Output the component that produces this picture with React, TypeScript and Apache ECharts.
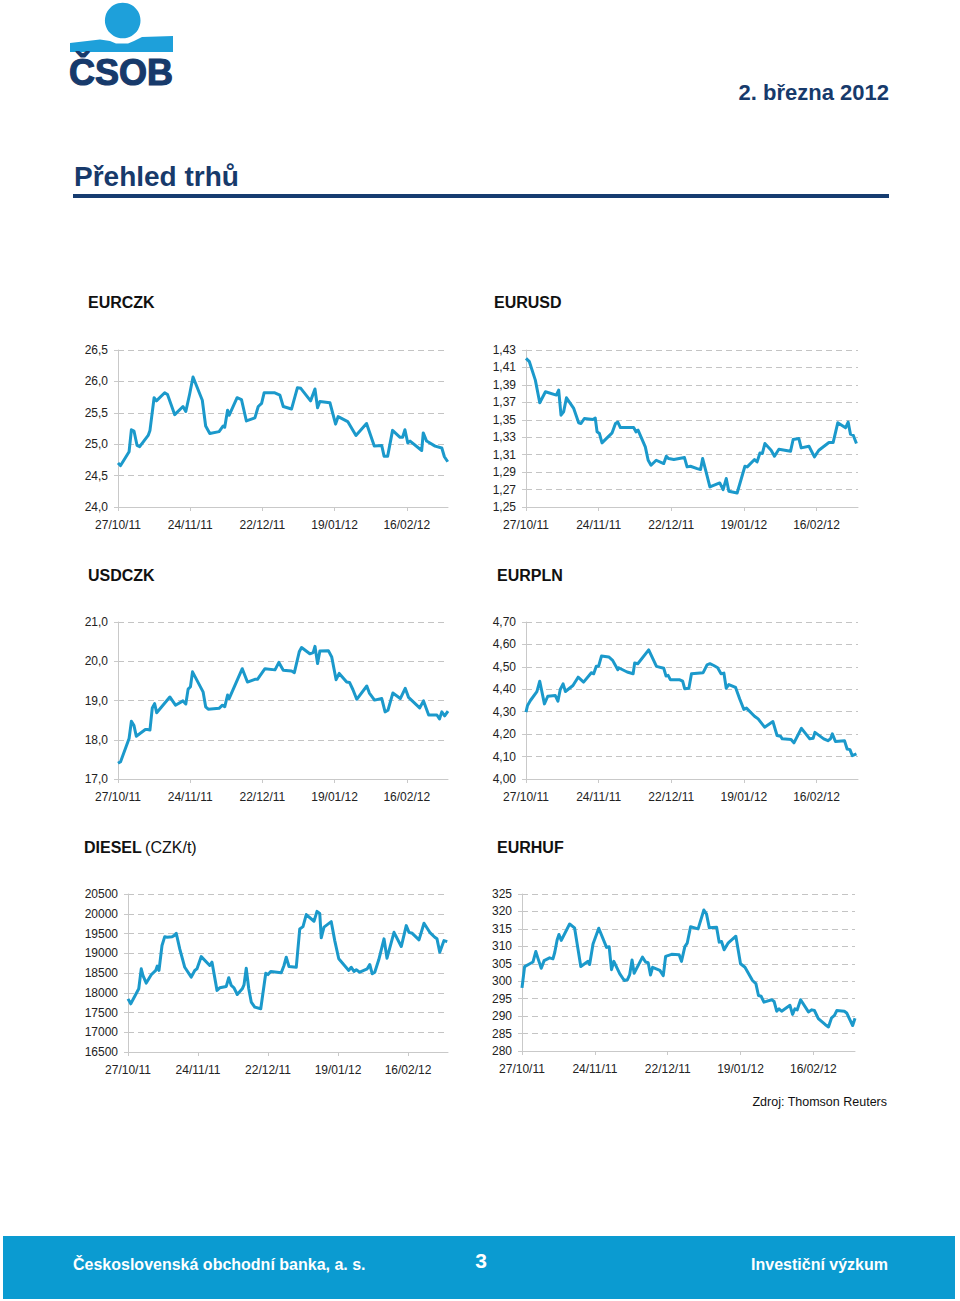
import React, { useEffect, useRef } from "react";
import * as echarts from "echarts";

// ---- Data (x = days since 27/10/2011, y = value) ----
const xTickDays = [0, 28, 56, 84, 112];
const xTickLabels = ["27/10/11", "24/11/11", "22/12/11", "19/01/12", "16/02/12"];

const eurczk: [number, number][] = [
  [0, 24.7], [1, 24.66], [4.3, 24.88], [5.2, 25.23], [6.2, 25.21], [7.4, 24.98], [8.4, 24.96], [11.7, 25.14],
  [12.4, 25.22], [14, 25.74], [14.9, 25.69], [18.1, 25.82], [19.2, 25.79], [22, 25.47], [25.2, 25.6], [26.3, 25.52],
  [27.8, 25.8], [29.1, 26.07], [32.7, 25.7], [34, 25.29], [35.6, 25.17], [39.2, 25.2], [40.8, 25.29], [41.4, 25.27],
  [42.5, 25.54], [43.1, 25.46], [46.2, 25.74], [47.9, 25.71], [49.8, 25.37], [53.1, 25.42], [54.4, 25.6], [55.7, 25.65],
  [56.7, 25.82], [60.6, 25.82], [62.8, 25.78], [64.1, 25.6], [67.3, 25.56], [69.6, 25.9], [70.9, 25.89], [74.7, 25.69],
  [76.4, 25.88], [77.4, 25.58], [78.3, 25.68], [82.2, 25.66], [84.4, 25.32], [85.4, 25.44], [89.1, 25.36], [92.3, 25.14],
  [96.4, 25.33], [99.4, 24.97], [102.3, 24.98], [103.2, 24.81], [104.6, 24.81], [106.5, 25.22], [109.4, 25.11],
  [110.4, 25.11], [111.3, 25.23], [112.4, 25.02], [113.3, 25.05], [117.8, 24.9], [118.4, 25.18], [119.7, 25.05],
  [123, 24.97], [125.6, 24.94], [126.6, 24.8], [127.9, 24.72],
];

const eurusd: [number, number][] = [
  [0, 1.4204], [1.3, 1.4166], [3.6, 1.3955], [5.3, 1.3695], [7.5, 1.3821], [11.7, 1.3783], [12.6, 1.384], [13.5, 1.3553],
  [14.5, 1.3591], [15.6, 1.3752], [18.4, 1.363], [20.3, 1.3465], [21.2, 1.3457], [22.5, 1.3515], [25.8, 1.3503],
  [26.7, 1.3519], [27.4, 1.3362], [28.3, 1.3343], [29.3, 1.3235], [33.2, 1.335], [34.5, 1.3457], [35.4, 1.3473],
  [36.4, 1.3411], [41.5, 1.3411], [42.4, 1.3362], [43.2, 1.3381], [46, 1.3189], [47.1, 1.3036], [48.2, 1.2979],
  [50.2, 1.3036], [53.1, 1.2998], [54.1, 1.3082], [55, 1.3055], [57, 1.3044], [61.1, 1.3067], [62.1, 1.296],
  [63.4, 1.2967], [66, 1.294], [67.3, 1.2929], [68.1, 1.3055], [69.6, 1.2883], [70.9, 1.273], [74.7, 1.2776],
  [76, 1.2699], [77.2, 1.2826], [78.2, 1.268], [81.4, 1.2661], [84.4, 1.2967], [85.3, 1.296], [88.1, 1.3044],
  [89.1, 1.3017], [90.2, 1.312], [91.1, 1.3113], [92.1, 1.3228], [94.5, 1.3151], [95.8, 1.3082], [97.5, 1.3163],
  [102, 1.314], [103, 1.3274], [105.2, 1.3285], [106.1, 1.3178], [109.1, 1.3197], [111.2, 1.3074], [112.9, 1.3151],
  [116.8, 1.3239], [118.4, 1.3239], [120.2, 1.3465], [123.2, 1.3408], [124.2, 1.3473], [125.1, 1.3335],
  [126.2, 1.332], [127.4, 1.3228],
];

const usdczk: [number, number][] = [
  [0, 17.4], [1, 17.44], [4.3, 18.03], [5.2, 18.47], [6.2, 18.36], [7.1, 18.09], [10.6, 18.26], [11.4, 18.26],
  [12.4, 18.25], [13.3, 18.81], [14.2, 18.92], [15, 18.69], [20.1, 19.09], [22.3, 18.88], [25.2, 18.99], [26.3, 18.91],
  [27.2, 19.29], [28.1, 19.35], [28.9, 19.73], [33, 19.22], [34, 18.84], [35, 18.78], [39.2, 18.8], [40.5, 18.88],
  [41.4, 18.84], [42.5, 19.14], [43.1, 19.05], [48.2, 19.81], [50.2, 19.47], [53.1, 19.54], [54.1, 19.54], [57, 19.81],
  [60.9, 19.78], [62.4, 19.97], [64.1, 19.77], [67.3, 19.75], [68.4, 19.71], [70.3, 20.24], [71.2, 20.35],
  [74.4, 20.19], [75.7, 20.22], [76.4, 20.38], [77.4, 19.94], [78.3, 20.26], [81.6, 20.27], [82.9, 20.11],
  [84.6, 19.53], [85.8, 19.69], [88.7, 19.47], [89.8, 19.46], [91.1, 19.28], [92.6, 19.03], [96.5, 19.37],
  [97.5, 19.19], [99.5, 19.01], [102.3, 19.05], [103.6, 18.71], [104.7, 18.75], [106.6, 19.19], [109.5, 19.05],
  [111.4, 19.31], [112.7, 19.08], [117, 18.81], [118.5, 18.99], [120.5, 18.63], [123.7, 18.63], [124.7, 18.53],
  [125.6, 18.71], [126.7, 18.61], [128, 18.73],
];

const eurpln: [number, number][] = [
  [0, 4.298], [0.6, 4.328], [1.7, 4.35], [4.2, 4.39], [5.3, 4.436], [7.1, 4.335], [8.4, 4.369], [11.3, 4.372],
  [12.3, 4.347], [13.2, 4.399], [14.3, 4.424], [15.2, 4.39], [18.1, 4.417], [20.1, 4.454], [22.2, 4.432],
  [25.2, 4.474], [26.1, 4.469], [27.1, 4.503], [28, 4.503], [29.1, 4.548], [31.9, 4.544], [33.4, 4.529],
  [35.4, 4.487], [35.7, 4.496], [39, 4.477], [41.3, 4.469], [41.9, 4.517], [43.1, 4.514], [47.3, 4.576],
  [50.3, 4.502], [53.1, 4.494], [54, 4.459], [54.8, 4.462], [55.7, 4.442], [59.3, 4.442], [60.4, 4.436],
  [61.2, 4.402], [62.8, 4.405], [63.8, 4.469], [68.3, 4.474], [69.8, 4.509], [70.9, 4.514], [72.4, 4.506],
  [73.9, 4.496], [75.2, 4.469], [76.3, 4.472], [77.2, 4.405], [78.2, 4.421], [80.8, 4.408], [82.4, 4.357],
  [84, 4.31], [85, 4.316], [88.1, 4.28], [89.5, 4.268], [92, 4.231], [95.2, 4.256], [96.8, 4.194], [98.1, 4.191],
  [98.8, 4.179], [102.2, 4.176], [103.3, 4.161], [106.2, 4.226], [109.4, 4.179], [110.7, 4.182], [111.4, 4.208],
  [114.8, 4.179], [116.4, 4.171], [117.4, 4.179], [118.1, 4.201], [119.3, 4.167], [122.8, 4.171], [123.8, 4.134],
  [124.9, 4.131], [125.8, 4.104], [127.4, 4.112],
];

const diesel: [number, number][] = [
  [0, 17845], [1.1, 17720], [4.3, 18100], [5.3, 18605], [6, 18435], [7.3, 18245], [9.3, 18455], [11.1, 18565],
  [11.7, 18675], [12.4, 18565], [13.6, 19195], [14.7, 19420], [15.6, 19405], [17.7, 19420], [18.4, 19445],
  [19.3, 19505], [20.7, 19110], [22.7, 18645], [25.3, 18395], [26.7, 18565], [27.6, 18605], [29.3, 18915],
  [32.7, 18690], [33.6, 18775], [35.6, 18060], [36.7, 18125], [39.3, 18160], [40.3, 18380], [41.3, 18185],
  [42.4, 18125], [43.7, 17955], [45.7, 18100], [46.4, 18200], [47.3, 18620], [48.3, 18100], [49.3, 17765],
  [50.7, 17635], [53.1, 17595], [55.1, 18495], [56, 18460], [57.1, 18540], [61.3, 18505], [62.4, 18690],
  [63.3, 18900], [64.4, 18665], [67.3, 18645], [68.7, 19615], [70, 19675], [71.3, 19980], [74.4, 19810],
  [75.6, 20060], [76.7, 20010], [77.3, 19390], [78.4, 19660], [81.3, 19800], [82.7, 19320], [84.3, 18860],
  [88.3, 18565], [89.3, 18645], [90.4, 18540], [91.3, 18580], [92.7, 18520], [95.7, 18605], [96.7, 18715],
  [97.7, 18480], [98.7, 18520], [100.3, 18835], [102.4, 19365], [103.6, 18875], [106.4, 19530], [109.3, 19170],
  [111.3, 19700], [112.4, 19530], [113.7, 19505], [116.4, 19340], [118.4, 19760], [120.7, 19530], [122.7, 19405],
  [123.6, 19365], [124.7, 19025], [126.4, 19320], [127.7, 19295],
];

const eurhuf: [number, number][] = [
  [0, 298.1], [1, 304.2], [3, 305.0], [4.2, 305.5], [5.3, 308.5], [6.2, 306.4], [7.4, 303.7], [8.5, 305.9],
  [10.6, 306.7], [11.9, 306.4], [12.6, 308.3], [13.5, 311.8], [14.2, 313.4], [15.1, 311.7], [18.3, 316.4],
  [20.2, 315.3], [22.6, 304.2], [25.4, 305.7], [26, 304.8], [27.3, 310.7], [29.5, 315.2], [32.5, 309.7],
  [33.5, 309.9], [34.4, 303.3], [35.3, 305.7], [37.6, 302.1], [39.3, 300.2], [40.5, 300.4], [41.4, 301.9],
  [42.3, 306.1], [43.1, 302.3], [46.3, 306.9], [47.5, 305.5], [48.5, 305.3], [49.4, 301.8], [50.2, 304.0],
  [53, 303.1], [54.3, 301.6], [55.2, 307.1], [57.5, 307.7], [60.4, 307.6], [61.3, 305.7], [62.6, 309.9],
  [63.5, 310.9], [64.8, 315.6], [67.7, 315.0], [69.9, 320.4], [70.9, 319.3], [72, 315.3], [74.8, 315.5],
  [75.8, 311.2], [76.7, 311.4], [77.7, 309.0], [79.3, 311.0], [82.2, 312.9], [84, 305.0], [85.7, 304.0],
  [88.6, 300.2], [89.9, 299.3], [90.9, 295.9], [91.9, 295.7], [93, 294.0], [96, 294.7], [96.9, 294.2],
  [97.9, 291.4], [98.8, 292.1], [99.8, 291.4], [103, 293.1], [104, 290.5], [104.9, 292.1], [105.8, 291.8],
  [107.1, 294.7], [110.1, 291.2], [111.4, 291.8], [112.4, 291.6], [113.9, 289.3], [116.5, 287.6], [117.8, 286.9],
  [119, 289.5], [120.1, 290.2], [121, 291.6], [123.9, 291.4], [124.8, 290.9], [127.1, 287.3], [128, 289.4],
];

const FONT = "'Liberation Sans', Arial, Helvetica, sans-serif";
const LINE_COLOR = "#1b99cb";
const NAVY = "#173a6b";

type Panel = {
  data: [number, number][];
  left: number; top: number; width: number; height: number;
  min: number; max: number; interval: number; decimals: number;
};

const panels: Panel[] = [
  { data: eurczk, left: 118, top: 350, width: 330, height: 157, min: 24, max: 26.5, interval: 0.5, decimals: 1 },
  { data: eurusd, left: 526, top: 350, width: 332, height: 157, min: 1.25, max: 1.43, interval: 0.02, decimals: 2 },
  { data: usdczk, left: 118, top: 622, width: 330, height: 157, min: 17, max: 21, interval: 1, decimals: 1 },
  { data: eurpln, left: 526, top: 622, width: 332, height: 157, min: 4.0, max: 4.7, interval: 0.1, decimals: 2 },
  { data: diesel, left: 128, top: 894, width: 320, height: 158, min: 16500, max: 20500, interval: 500, decimals: 0 },
  { data: eurhuf, left: 522, top: 894, width: 333, height: 157, min: 280, max: 325, interval: 5, decimals: 0 },
];

function buildOption() {
  const grid: any[] = [];
  const xAxis: any[] = [];
  const yAxis: any[] = [];
  const series: any[] = [];
  panels.forEach((p, i) => {
    grid.push({ left: p.left, top: p.top, width: p.width, height: p.height, containLabel: false });
    xAxis.push({
      type: "value", gridIndex: i, min: 0, max: 128, interval: 28,
      axisLine: { show: true, lineStyle: { color: "#c9c9c9", width: 1 } },
      axisTick: { show: true, length: 4, lineStyle: { color: "#c9c9c9" }, customValues: xTickDays },
      splitLine: { show: false },
      axisLabel: {
        customValues: xTickDays,
        margin: 12, color: "#222", fontSize: 12, fontFamily: FONT,
        formatter: (v: number) => {
          const k = xTickDays.indexOf(Math.round(v));
          return k >= 0 ? xTickLabels[k] : "";
        },
      },
    });
    yAxis.push({
      type: "value", gridIndex: i, min: p.min, max: p.max, interval: p.interval,
      axisLine: { show: true, lineStyle: { color: "#c9c9c9", width: 1 } },
      axisTick: { show: true, length: 4, lineStyle: { color: "#c9c9c9" } },
      splitLine: { show: true, lineStyle: { color: "#c4c4c4", width: 1, type: [6, 4] } },
      axisLabel: {
        margin: 10, color: "#222", fontSize: 12, fontFamily: FONT,
        formatter: (v: number) => p.decimals > 0 ? v.toFixed(p.decimals).replace(".", ",") : String(Math.round(v)),
      },
    });
    series.push({
      type: "line", xAxisIndex: i, yAxisIndex: i, data: p.data,
      showSymbol: false, symbol: "none", clip: false,
      lineStyle: { color: LINE_COLOR, width: 3, join: "round" },
      z: 5,
    });
  });

  const titleStyle = (text: string, x: number, y: number) => ({
    type: "text", x, y,
    style: { text, fill: "#111", font: `bold 16px ${FONT}`, verticalAlign: "middle" },
  });

  const graphic: any[] = [
    // logo
    { type: "circle", shape: { cx: 122.7, cy: 20.5, r: 17.8 }, style: { fill: "#1ea0da" } },
    {
      type: "polygon",
      shape: { points: [[70, 43], [100, 39.5], [110, 41], [116, 43.5], [128, 43.5], [134, 41], [142, 37], [173, 36], [173, 52], [70, 52]] },
      style: { fill: "#1ea0da" },
    },
    { type: "text", x: 69, y: 72.5, style: { text: "ČSOB", fill: NAVY, font: `bold 36px ${FONT}`, verticalAlign: "middle", stroke: NAVY, lineWidth: 1.2 } },
    // date
    { type: "text", x: 889, y: 92, style: { text: "2. března 2012", fill: NAVY, font: `bold 22px ${FONT}`, align: "right", verticalAlign: "middle" } },
    // title
    { type: "text", x: 74, y: 176, style: { text: "Přehled trhů", fill: NAVY, font: `bold 28px ${FONT}`, verticalAlign: "middle" } },
    { type: "rect", shape: { x: 73, y: 194, width: 816, height: 4 }, style: { fill: "#163c70" } },
    // chart titles
    titleStyle("EURCZK", 88, 302),
    titleStyle("EURUSD", 494, 302),
    titleStyle("USDCZK", 88, 575),
    titleStyle("EURPLN", 497, 575),
    {
      type: "text", x: 84, y: 847,
      style: {
        text: "{b|DIESEL} {n|(CZK/t)}", verticalAlign: "middle",
        rich: {
          b: { fontWeight: "bold", fontSize: 16, fontFamily: FONT, fill: "#111" },
          n: { fontWeight: "normal", fontSize: 16, fontFamily: FONT, fill: "#111" },
        },
      },
    },
    titleStyle("EURHUF", 497, 847),
    // source
    { type: "text", x: 887, y: 1102, style: { text: "Zdroj: Thomson Reuters", fill: "#111", font: `12.5px ${FONT}`, align: "right", verticalAlign: "middle" } },
    // footer
    { type: "rect", shape: { x: 3, y: 1236, width: 952, height: 63 }, style: { fill: "#0b9bd1" } },
    { type: "text", x: 73, y: 1264, style: { text: "Československá obchodní banka, a. s.", fill: "#fff", font: `bold 16px ${FONT}`, verticalAlign: "middle" } },
    { type: "text", x: 481, y: 1260, style: { text: "3", fill: "#fff", font: `bold 21px ${FONT}`, align: "center", verticalAlign: "middle" } },
    { type: "text", x: 888, y: 1264, style: { text: "Investiční výzkum", fill: "#fff", font: `bold 16px ${FONT}`, align: "right", verticalAlign: "middle" } },
  ];

  return {
    animation: false,
    backgroundColor: "#ffffff",
    textStyle: { fontFamily: FONT },
    grid, xAxis, yAxis, series, graphic,
  };
}

export default function App() {
  const ref = useRef<HTMLDivElement>(null);
  useEffect(() => {
    if (!ref.current) return;
    const chart = echarts.init(ref.current, null, { renderer: "svg" });
    chart.setOption(buildOption() as any);
    return () => chart.dispose();
  }, []);
  return (
    <div
      ref={ref}
      style={{ position: "absolute", left: 0, top: 0, width: 960, height: 1301, background: "#fff" }}
    />
  );
}
